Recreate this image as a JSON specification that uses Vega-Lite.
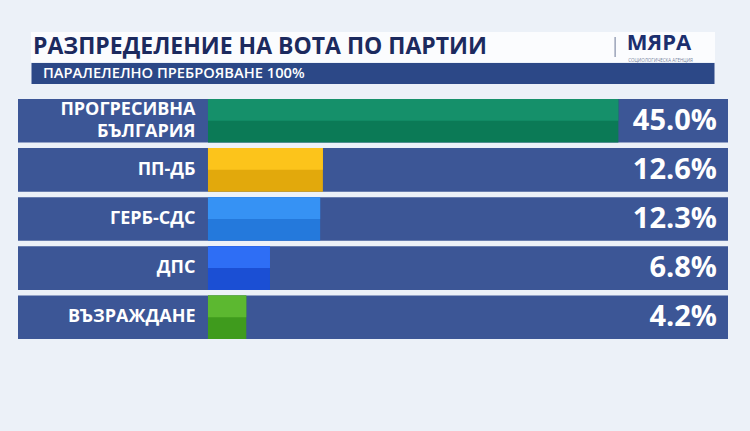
{
  "$schema": "https://vega.github.io/schema/vega-lite/v6.json",
  "background": "#ecf1f8",
  "padding": {"left": 18, "top": 32, "right": 22, "bottom": 94},
  "config": {"view": {"stroke": null}, "font": "Open Sans"},
  "spacing": 14,
  "center": true,
  "vconcat": [
    {
      "spacing": 0,
      "center": true,
      "vconcat": [
        {
          "width": 684,
          "height": 30,
          "view": {"fill": "#fbfcfe", "stroke": null},
          "data": {"values": [{"title": "РАЗПРЕДЕЛЕНИЕ НА ВОТА ПО ПАРТИИ", "logo": "МЯРА", "agency": "СОЦИОЛОГИЧЕСКА АГЕНЦИЯ"}]},
          "layer": [
            {
              "mark": {"type": "text", "align": "left", "baseline": "middle", "dx": 2, "font": "Open Sans", "fontWeight": "bold", "fontSize": 23, "color": "#1c2a5e"},
              "encoding": {
                "x": {"datum": 0, "type": "quantitative", "scale": {"domain": [0, 1]}, "axis": null},
                "y": {"datum": 0.5, "type": "quantitative", "scale": {"domain": [0, 1]}, "axis": null},
                "text": {"field": "title"}
              }
            },
            {
              "mark": {"type": "rule", "color": "#9aa3b8", "strokeWidth": 1.5},
              "encoding": {"x": {"datum": 0.854, "type": "quantitative"}, "y": {"datum": 0.17, "type": "quantitative"}, "y2": {"datum": 0.83}}
            },
            {
              "mark": {"type": "text", "align": "left", "baseline": "alphabetic", "font": "Open Sans", "fontWeight": "bold", "fontSize": 22, "color": "#1c2f6e"},
              "encoding": {"x": {"datum": 0.871, "type": "quantitative"}, "y": {"datum": 0.4, "type": "quantitative"}, "text": {"field": "logo"}}
            },
            {
              "mark": {"type": "text", "align": "left", "baseline": "top", "font": "Open Sans", "fontSize": 4.5, "color": "#7a85a0"},
              "encoding": {"x": {"datum": 0.873, "type": "quantitative"}, "y": {"datum": 0.13, "type": "quantitative"}, "text": {"field": "agency"}}
            }
          ]
        },
        {
          "width": 683,
          "height": 21,
          "view": {"fill": "#2c4887", "stroke": null},
          "data": {"values": [{"subtitle": "ПАРАЛЕЛЕЛНО ПРЕБРОЯВАНЕ 100%"}]},
          "mark": {"type": "text", "align": "left", "baseline": "middle", "dx": 11.5, "font": "Open Sans", "fontWeight": 600, "fontSize": 14.7, "color": "#ffffff"},
          "encoding": {
            "x": {"datum": 0, "type": "quantitative", "scale": {"domain": [0, 1]}, "axis": null},
            "y": {"datum": 0.5, "type": "quantitative", "scale": {"domain": [0, 1]}, "axis": null},
            "text": {"field": "subtitle"}
          }
        }
      ]
    },
    {
      "width": 710,
      "height": 240,
      "data": {
        "values": [
          {"party": "ПРОГРЕСИВНА БЪЛГАРИЯ", "share": 0.450},
          {"party": "ПП-ДБ", "share": 0.126},
          {"party": "ГЕРБ-СДС", "share": 0.123},
          {"party": "ДПС", "share": 0.068},
          {"party": "ВЪЗРАЖДАНЕ", "share": 0.042}
        ]
      },
      "encoding": {
        "y": {
          "field": "party",
          "type": "nominal",
          "sort": null,
          "scale": {"paddingInner": 0.114, "paddingOuter": 0},
          "axis": {
            "orient": "left",
            "offset": -177,
            "domain": false,
            "ticks": false,
            "tickSize": 0,
            "labelPadding": 0,
            "title": null,
            "labelColor": "#ffffff",
            "labelFont": "Open Sans",
            "labelFontWeight": "bold",
            "labelFontSize": 18,
            "labelLimit": 0,
            "labelLineHeight": 22,
            "labelOffset": {"condition": {"test": "indexof(datum.label, ' ') > 0", "value": -11}, "value": 0},
            "labelExpr": "indexof(datum.label, ' ') > 0 ? split(datum.label, ' ') : datum.label",
            "zindex": 1
          }
        }
      },
      "layer": [
        {"mark": {"type": "rect", "color": "#3c5696"}},
        {
          "mark": {"type": "bar"},
          "encoding": {
            "x": {"field": "share", "type": "quantitative", "scale": {"domain": [-0.2083, 0.5702], "nice": false, "zero": false}, "axis": null},
            "x2": {"datum": 0},
            "color": {
              "field": "party",
              "type": "nominal",
              "scale": {"domain": ["ПРОГРЕСИВНА БЪЛГАРИЯ", "ПП-ДБ", "ГЕРБ-СДС", "ДПС", "ВЪЗРАЖДАНЕ"], "range": ["#0b7a56", "#e2a90c", "#2479dc", "#1b4fd4", "#3f9b1d"]},
              "legend": null
            }
          }
        },
        {
          "mark": {"type": "bar", "height": {"band": 0.5}, "yOffset": -10.9},
          "encoding": {
            "x": {"field": "share", "type": "quantitative"},
            "x2": {"datum": 0},
            "color": {
              "field": "party",
              "type": "nominal",
              "scale": {"domain": ["ПРОГРЕСИВНА БЪЛГАРИЯ", "ПП-ДБ", "ГЕРБ-СДС", "ДПС", "ВЪЗРАЖДАНЕ"], "range": ["#15906a", "#fcc41b", "#3692f4", "#2e6ef5", "#5cb830"]},
              "legend": null
            }
          }
        },
        {
          "mark": {"type": "text", "align": "right", "baseline": "middle", "dx": -11, "font": "Open Sans", "fontWeight": "bold", "fontSize": 29, "color": "#ffffff"},
          "encoding": {
            "x": {"value": "width"},
            "text": {"field": "share", "type": "quantitative", "format": ".1%"}
          }
        }
      ],
      "resolve": {"scale": {"color": "independent"}}
    }
  ]
}
